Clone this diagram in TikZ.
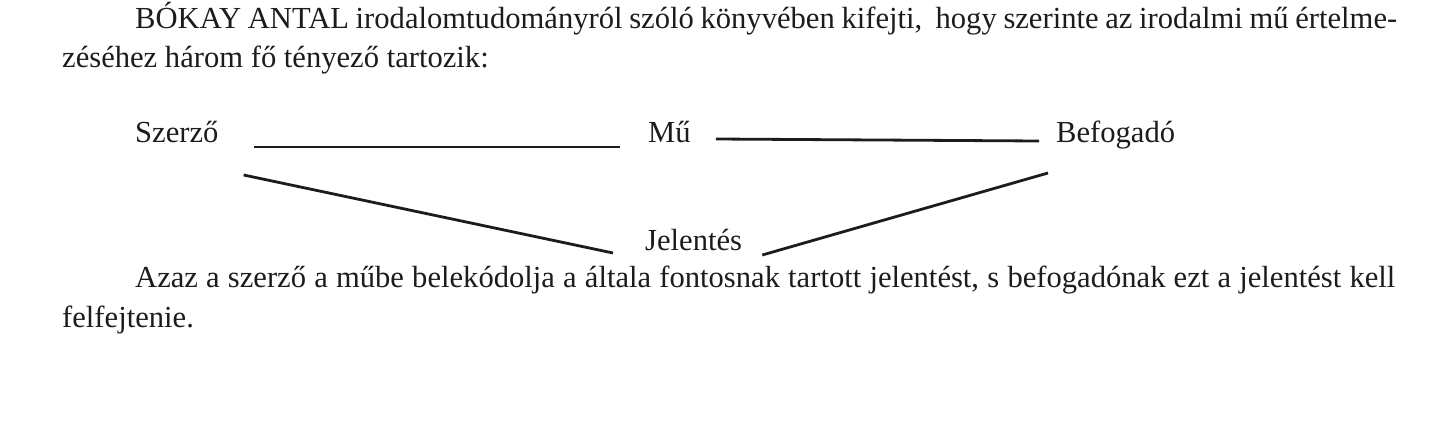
\documentclass[tikz,border=0pt]{standalone}
\usepackage{fontspec}
\setmainfont{Liberation Serif}
\usepackage{tikz}
\definecolor{ink}{RGB}{30,27,28}
\tikzset{
	txt/.style={anchor=base west, inner sep=0, text=ink, font=\fontsize{30.6}{40}\selectfont},
	link/.style={draw=ink, line width=2.8pt}
}

\begin{document}
\begin{tikzpicture}[x=1pt, y=-1pt]
			%%%%% START %%%%%
			\useasboundingbox (0, 0) rectangle (1433, 423);
			
			\node[txt] (top1) at (135, 28) {\hbox to 1262pt{BÓKAY ANTAL irodalomtudományról szóló könyvében kifejti,\ \ hogy szerinte az irodalmi mű értelme-}};
			\node[txt] (top2) at (62, 67) {zéséhez három fő tényező tartozik:};
			
			\node[txt] (szerzo) at (135, 142) {Szerző};
			\node[txt] (mu) at (648, 142) {Mű};
			\node[txt] (befogado) at (1056, 142) {Befogadó};
			\node[txt] (jelentes) at (645, 250) {Jelentés};
			
			\draw[link] ([shift={(35, 5)}]szerzo.base east) -- ([shift={(-28, 5)}]mu.base west);
			\draw[link] ([shift={(25, -3)}]mu.base east) -- ([shift={(-17, -1)}]befogado.base west);
			\draw[link] ([shift={(25, 33)}]szerzo.base east) -- ([shift={(-32, 3)}]jelentes.base west);
			\draw[link] ([shift={(20, 5)}]jelentes.base east) -- ([shift={(-8, 31)}]befogado.base west);
			
			\node[txt] (bot1) at (135, 287) {\hbox to 1260pt{Azaz a szerző a műbe belekódolja a általa fontosnak tartott jelentést, s befogadónak ezt a jelentést kell}};
			\node[txt] (bot2) at (62, 327) {felfejtenie.};
			
			%%%%% END %%%%%
		\end{tikzpicture}
\end{document}
